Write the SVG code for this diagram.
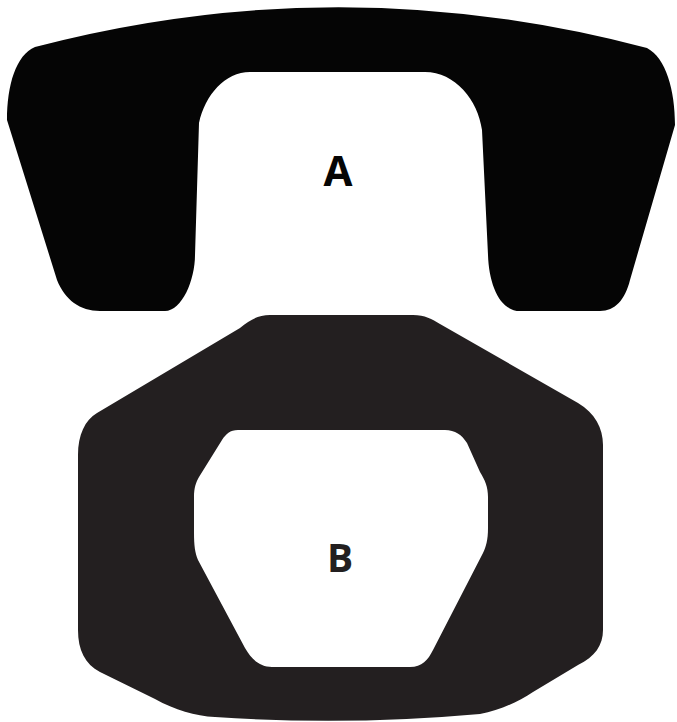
<svg xmlns="http://www.w3.org/2000/svg" width="677" height="722" viewBox="0 0 677 722">
<style>
.lbl{font-family:"Open Sans","Liberation Sans",sans-serif;font-weight:700;text-anchor:middle}
</style>
<rect width="677" height="722" fill="#fff"/>
<g id="A">
<path fill="#050505" d="M 7,120 C 7,85 16,55 35,47 Q 340,-33 647,48 C 666,58 675,90 675,125 L 630,280 C 625,300 615,311 600,311 L 520,311 C 500,311 489,285 488,255 L 482,130 C 478,100 455,72 425,72 L 250,72 C 225,72 205,95 199,123 L 195,255 C 195,280 182,311 165,311 L 100,311 C 80,311 65,300 57,280 Z"/>
<text class="lbl" x="338" y="186" font-size="42" fill="#050505">A</text>
</g>
<g id="B">
<path fill="#231f20" fill-rule="evenodd" d="M 270,315 L 413,315 C 425,315 432,319 440,324 L 578,403 C 595,413 603,428 603,445 L 603,630 C 603,645 595,657 578,665 L 533,692 C 518,702 500,710 480,714 Q 347,726 215,717 C 195,716 175,710 155,699 L 100,672 C 85,664 78,650 78,630 L 78,455 C 78,435 85,420 97,413 L 240,328 C 250,320 258,315 270,315 Z M 238,430 L 445,430 C 455,430 462,435 467,443 L 480,472 C 485,480 488,487 488,497 L 488,528 C 488,540 486,547 483,553 L 433,650 C 428,660 422,667 410,667 L 272,667 C 260,667 252,660 245,648 L 198,560 C 195,553 194,545 194,533 L 194,497 C 194,488 196,482 199,477 L 222,440 C 226,434 230,430 238,430 Z"/>
<text class="lbl" x="340" y="572" font-size="39" fill="#231f20">B</text>
</g>
</svg>
